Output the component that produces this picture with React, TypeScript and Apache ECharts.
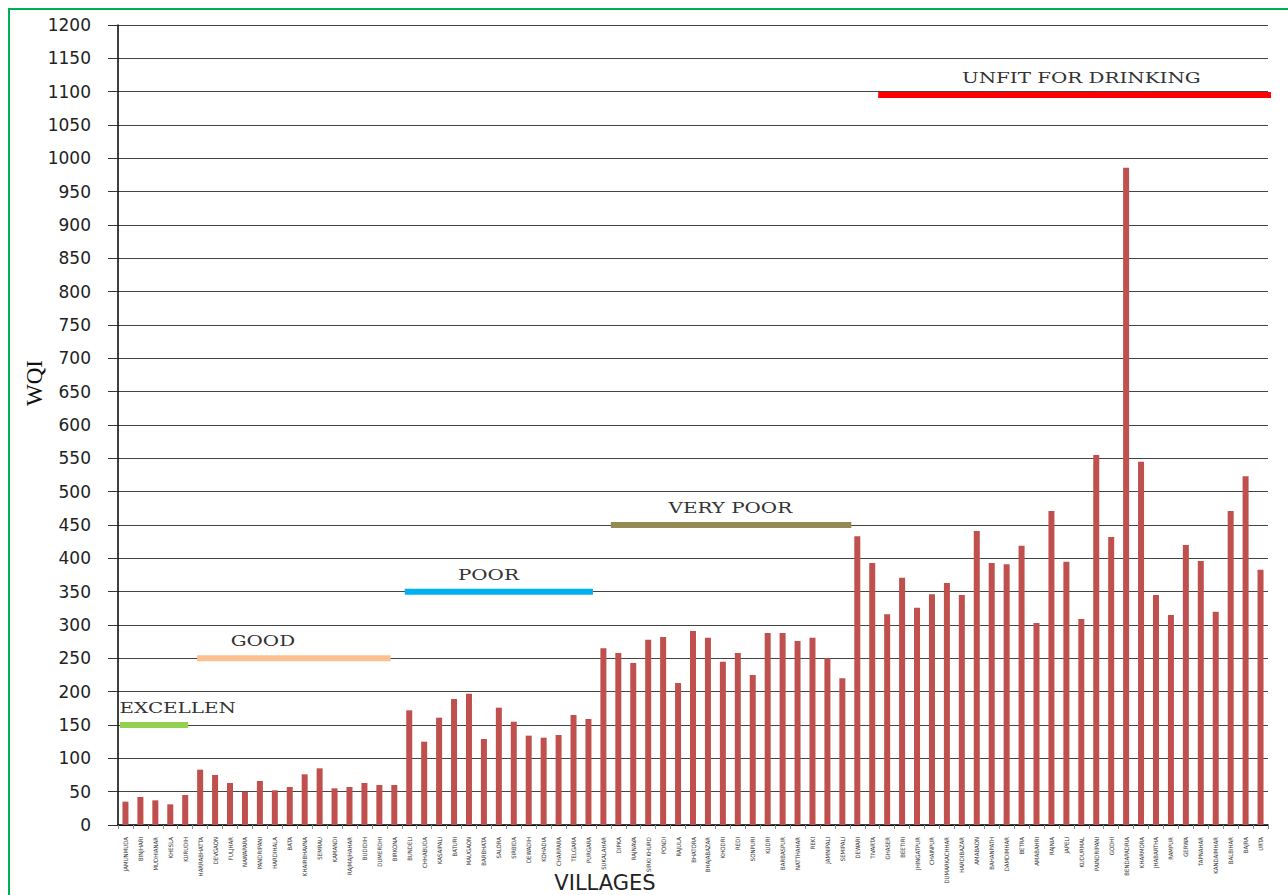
import React, { useEffect, useRef } from "react";
import * as echarts from "echarts";

const villages: string[] = [
  "JAMUNMUDA", "BINJHARI", "MUDHIANAR", "KHESLA", "KURUDIH", "HARRABHATTA", "DEVGAON", "FULJHAR", "NAWAPARA", "PANDRIPANI",
  "HARDIHALA", "BATA", "KHAIRBHAVNA", "SEMRAU", "KAMANDI", "RAJMAJHAHAR", "BUDIDIH", "DUMERDHI", "BIRKONA", "BUNDELI",
  "CHHABUDA", "KASAIPALI", "BATURI", "MAUGAON", "BARBHATA", "SALORA", "SIRBIDA", "DEWADIH", "KOHADIA", "CHARPARA",
  "TELGARA", "PURGARA", "SUKALAHAR", "DIPKA", "RAJNAVA", "SIRKI KHURD", "PONDI", "RAJULA", "BHATORA", "BHAJABAZAR",
  "KHODRI", "REDI", "SONPURI", "KUDRI", "BARBASPUR", "NATTHAHAR", "REKI", "JAMNIPALI", "SEMIPALI", "DEWARI",
  "TIVARTA", "GHASER", "BEETIRI", "JHINGATPUR", "CHAINPUR", "DUMARKACHHAR", "HARDIBAZAR", "AMABAON", "BAHANPATH", "DAMDIMHAR",
  "BETRA", "AMABAHRI", "RAJNIA", "JAPELI", "KUDURMAL", "PAINDRIPANI", "GODHI", "BENDAPADRIA", "KHARMORA", "JHABARTHA",
  "RAMPUR", "GERWA", "TAPNAHAR", "KANDAIMHAR", "BALBIHAR", "BAJRA", "URTA",
];

const wqi: number[] = [
  35, 42, 37, 31, 45, 83, 75, 63, 50, 66,
  52, 57, 76, 85, 55, 57, 63, 60, 60, 172,
  125, 161, 189, 197, 129, 176, 155, 134, 131, 135,
  165, 159, 265, 258, 243, 278, 282, 213, 291, 281,
  245, 258, 225, 288, 288, 276, 281, 250, 220, 433,
  393, 316, 371, 326, 346, 363, 345, 441, 393, 391,
  419, 303, 471, 395, 309, 555, 432, 986, 545, 345,
  315, 420, 396, 320, 471, 523, 383,
];

// Quality bands: label, WQI level, start / end / label centre (in category units)
const bandNames: string[] = ["EXCELLEN", "GOOD", "POOR", "VERY POOR", "UNFIT FOR DRINKING"];
const bandValues: number[] = [150, 250, 350, 450, 1095];
const bandStart: number[] = [0.13, 5.3, 19.2, 33.0, 50.9];
const bandEnd: number[] = [4.7, 18.25, 31.8, 49.1, 77.3];
const bandLabelAt: number[] = [4.0, 9.7, 24.8, 41.0, 64.5];
const bandColors: string[] = ["#92D050", "#FAC090", "#00B0F0", "#948A54", "#FF0000"];

export default function App() {
  const ref = useRef<HTMLDivElement>(null);

  useEffect(() => {
    if (!ref.current) return;
    const chart = echarts.init(ref.current, null, { renderer: "svg" });

    const bandSeries = bandNames.map((n, i) => ({
      name: n,
      type: "line",
      xAxisIndex: 1,
      yAxisIndex: 0,
      symbol: "none",
      clip: false,
      silent: true,
      z: 5,
      lineStyle: { color: bandColors[i], width: 6 },
      data: [
        [bandStart[i], bandValues[i]],
        [bandEnd[i], bandValues[i]],
      ],
    }));

    chart.setOption({
      animation: false,
      backgroundColor: "#ffffff",
      grid: {
        left: 118,
        right: 20,
        top: 25,
        bottom: 70,
        containLabel: false,
        outerBoundsMode: "none",
      },
      xAxis: [
        {
          type: "category",
          data: villages,
          name: "VILLAGES",
          nameLocation: "middle",
          nameGap: 47,
          nameMoveOverlap: false,
          nameTextStyle: {
            fontFamily: "DejaVu Sans",
            fontSize: 21,
            color: "#222",
            padding: [0, 176, 0, 0],
          },
          axisLine: { show: true, lineStyle: { color: "#000", width: 1.5 } },
          axisTick: { show: true, length: 4, lineStyle: { color: "#888" } },
          axisLabel: {
            interval: 0,
            rotate: 90,
            fontSize: 6,
            fontFamily: "'DejaVu Sans Condensed', 'Liberation Sans Narrow', 'DejaVu Sans'",
            color: "#333",
            margin: 12,
          },
          splitLine: { show: false },
        },
        { type: "value", min: 0, max: 77, show: false },
      ],
      yAxis: {
        type: "value",
        min: 0,
        max: 1200,
        interval: 50,
        name: "WQI",
        nameLocation: "middle",
        nameRotate: 90,
        nameGap: 72,
        nameMoveOverlap: false,
        nameTextStyle: {
          fontFamily: "Liberation Serif",
          fontSize: 23,
          color: "#111",
          padding: [0, 0, 0, 84],
        },
        axisLine: { show: true, lineStyle: { color: "#000", width: 1.5 } },
        axisTick: { show: true, length: 10, lineStyle: { color: "#333" } },
        axisLabel: {
          fontFamily: "'DejaVu Sans', Verdana, sans-serif",
          fontSize: 17,
          color: "#222",
          margin: 27,
          formatter: (v: number) => String(v),
        },
        splitLine: { show: true, lineStyle: { color: "#444", width: 1 } },
      },
      series: [
        {
          name: "WQI",
          type: "bar",
          data: wqi,
          barWidth: 6,
          itemStyle: { color: "#C0504D" },
          z: 3,
        },
        ...bandSeries,
      ],
    });

    const texts: any[] = bandNames.map((n, i) => {
      const p = chart.convertToPixel({ seriesIndex: i + 1 }, [bandLabelAt[i], bandValues[i]]) as number[];
      return {
        type: "text",
        x: p[0],
        y: p[1] - 17,
        scaleX: 1.42,
        silent: true,
        z: 10,
        style: {
          text: n,
          fontFamily: "'DejaVu Serif', 'Liberation Serif', serif",
          fontSize: 14,
          fill: "#333",
          align: "center",
          verticalAlign: "middle",
        },
      };
    });
    texts.push({
      type: "rect",
      silent: true,
      z: 20,
      shape: { x: 9, y: 9, width: 1300, height: 900 },
      style: { fill: "none", stroke: "#00B050", lineWidth: 2 },
    });
    chart.setOption({ graphic: texts });

    return () => chart.dispose();
  }, []);

  return (
    <div
      ref={ref}
      style={{ position: "absolute", left: 0, top: 0, width: 1288, height: 895 }}
    />
  );
}
